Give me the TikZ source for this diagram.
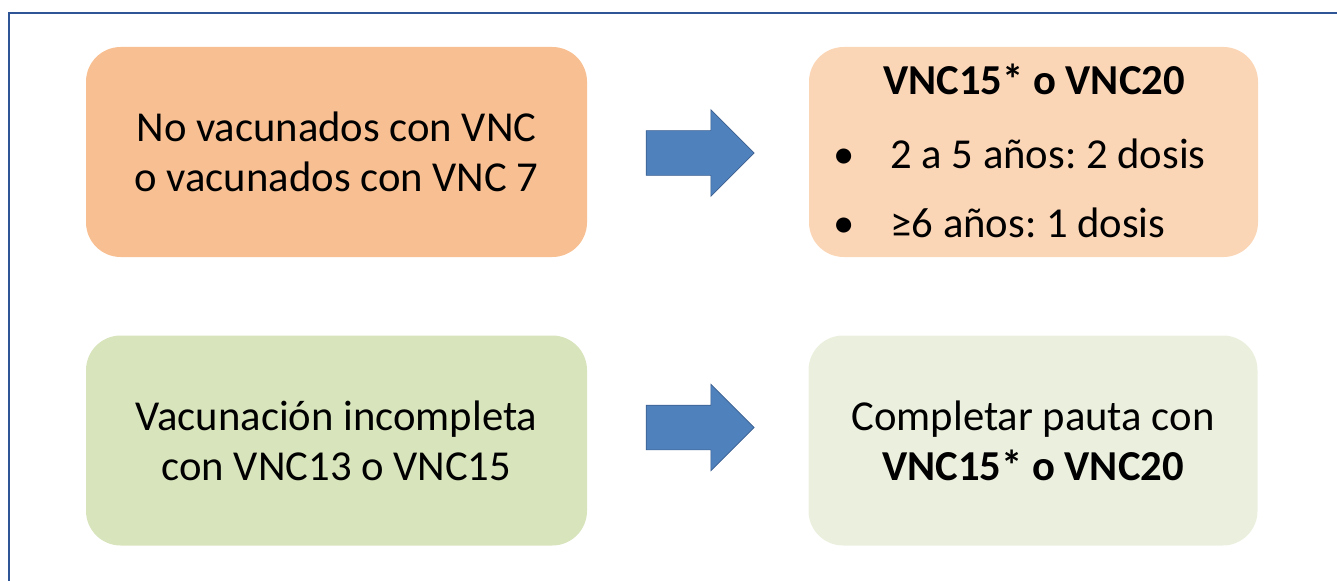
\documentclass[tikz,border=0pt]{standalone}
\usepackage{fontspec}
\setmainfont{Carlito}
\usetikzlibrary{shapes.arrows}
\frenchspacing

\definecolor{marco}{RGB}{47,85,151}
\definecolor{naranja}{RGB}{248,192,146}
\definecolor{naranjaclaro}{RGB}{251,214,182}
\definecolor{verde}{RGB}{216,228,188}
\definecolor{verdeclaro}{RGB}{235,240,222}
\definecolor{flechaazul}{RGB}{79,129,189}
\definecolor{flechaborde}{RGB}{58,95,143}

\tikzset{every picture/.style={line width=0.75pt}}

\begin{document}
\begin{tikzpicture}[x=0.75pt,y=0.75pt,yscale=-1,xscale=1,
	caja/.style={rounded corners=26pt, inner sep=0pt, align=center, minimum height=157.5pt, font=\fontsize{32}{37.5}\selectfont},
	texto/.style={inner sep=0pt, font=\fontsize{32}{37.5}\selectfont},
	flecha/.style={single arrow, draw=flechaborde, fill=flechaazul, line width=0.5pt, inner xsep=0pt, inner ysep=16.5pt, minimum height=81pt, single arrow head extend=15.75pt}]
	\useasboundingbox (0,0) rectangle (1337,581);
	\clip (0,0) rectangle (1337,581);

	%Frame
	\draw [marco, line width=1.5pt] (9,13) rectangle (1370,620);

	%Boxes
	\node [caja, fill=naranja, minimum width=375.75pt] (noVacunados) at (336.5,152) {No vacunados con VNC\\o vacunados con VNC 7};
	\node [caja, fill=verde, minimum width=375.75pt] (incompleta) at (336.5,440.5) {Vacunación incompleta\\con VNC13 o VNC15};
	\node [caja, fill=naranjaclaro, minimum width=336.75pt] (pauta) at (1033.5,152) {};
	\node [caja, fill=verdeclaro, minimum width=336.75pt] (completar) at (1033,440.5) {Completar pauta con\\\textbf{VNC15* o VNC20}};

	%Text of the top right box
	\node [texto, anchor=base, font=\fontsize{32}{37.5}\selectfont\bfseries] (titulo) at (1034,95) {VNC15* o VNC20};
	\node [texto, anchor=base] (bala1) at (844,168) {\textbullet};
	\node [texto, anchor=base west] (dosis1) at (890,168) {2 a 5 años: 2 dosis};
	\node [texto, anchor=base] (bala2) at (844,237) {\textbullet};
	\node [texto, anchor=base west] (dosis2) at (890,237) {≥6 años: 1 dosis};

	%Arrows
	\node [flecha] (flecha1) at (689,153) {};
	\node [flecha] (flecha2) at (689,427.5) {};

\end{tikzpicture}
\end{document}
